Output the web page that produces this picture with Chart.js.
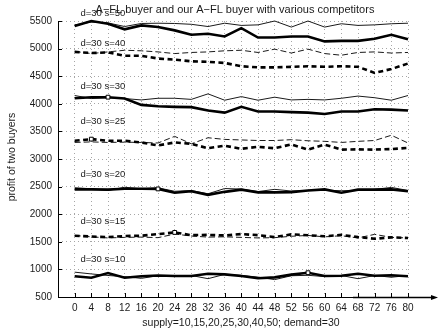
<!DOCTYPE html>
<html>
<head>
<meta charset="utf-8">
<script src="https://cdn.jsdelivr.net/npm/chart.js@4"></script>
<style>
  html, body { margin: 0; padding: 0; background: #fff; }
  #wrap { width: 443px; height: 332px; }
</style>
</head>
<body>
<div id="wrap"><canvas id="c" width="443" height="332"></canvas></div>
<script>
// supply steps on the x axis
const supply = [0, 4, 8, 12, 16, 20, 24, 28, 32, 36, 40, 44, 48, 52, 56, 60, 64, 68, 72, 76, 80];

// competitor buyer (thin) and our buyer (thick) per supply level
const s50Thin  = [5430, 5480, 5465, 5400, 5455, 5460, 5455, 5440, 5400, 5460, 5420, 5430, 5500, 5390, 5500, 5390, 5450, 5420, 5430, 5450, 5460];
const s50Thick = [5410, 5500, 5450, 5350, 5420, 5390, 5330, 5250, 5270, 5220, 5370, 5200, 5200, 5220, 5220, 5130, 5140, 5140, 5180, 5250, 5170];
const s40Thin  = [4950, 4910, 4940, 4970, 4960, 4940, 4910, 4930, 4940, 4960, 4970, 4930, 4990, 4920, 4990, 4910, 4880, 4930, 4940, 4920, 4930];
const s40Thick = [4940, 4920, 4930, 4870, 4870, 4820, 4800, 4770, 4760, 4740, 4680, 4660, 4660, 4670, 4680, 4670, 4680, 4670, 4560, 4630, 4730];
const s30Thin  = [4150, 4095, 4110, 4095, 4070, 4100, 4100, 4080, 4180, 4065, 4130, 4065, 4120, 4070, 4080, 4070, 4100, 4140, 4110, 4065, 4150];
const s30Thick = [4100, 4120, 4120, 4095, 3980, 3955, 3945, 3940, 3880, 3840, 3945, 3860, 3860, 3850, 3840, 3815, 3860, 3860, 3900, 3895, 3880];
const s25Thin  = [3300, 3310, 3300, 3305, 3300, 3290, 3410, 3275, 3385, 3355, 3345, 3335, 3335, 3350, 3330, 3320, 3300, 3320, 3335, 3430, 3290];
const s25Thick = [3330, 3360, 3330, 3330, 3300, 3245, 3300, 3275, 3195, 3240, 3185, 3220, 3195, 3265, 3170, 3260, 3170, 3175, 3170, 3180, 3200];
const s20Thin  = [2480, 2460, 2430, 2488, 2460, 2478, 2415, 2430, 2370, 2465, 2455, 2410, 2450, 2420, 2430, 2435, 2425, 2430, 2450, 2485, 2430];
const s20Thick = [2450, 2450, 2445, 2462, 2460, 2458, 2390, 2415, 2350, 2405, 2445, 2395, 2395, 2400, 2430, 2450, 2390, 2445, 2445, 2450, 2415];
const s15Thin  = [1615, 1590, 1570, 1580, 1585, 1575, 1640, 1605, 1585, 1590, 1580, 1570, 1575, 1600, 1615, 1590, 1610, 1570, 1635, 1580, 1570];
const s15Thick = [1610, 1595, 1585, 1605, 1610, 1640, 1670, 1620, 1625, 1615, 1640, 1620, 1585, 1635, 1620, 1600, 1625, 1585, 1555, 1580, 1570];
const s10Thin  = [950, 918, 890, 868, 838, 885, 880, 890, 832, 910, 892, 860, 815, 885, 893, 870, 890, 832, 890, 858, 890];
const s10Thick = [875, 850, 935, 850, 875, 890, 880, 880, 920, 910, 880, 840, 855, 905, 940, 880, 885, 920, 885, 895, 875];

// one entry per group, top to bottom
const groupNames  = ['d=30 s=50', 'd=30 s=40', 'd=30 s=30', 'd=30 s=25', 'd=30 s=20', 'd=30 s=15', 'd=30 s=10'];
const thinSeries  = [s50Thin, s40Thin, s30Thin, s25Thin, s20Thin, s15Thin, s10Thin];
const thickSeries = [s50Thick, s40Thick, s30Thick, s25Thick, s20Thick, s15Thick, s10Thick];
const dashedGroup = [false, true, false, true, false, true, false];
const bestSupply  = [null, null, 8, 4, 20, 24, 56];     // supply where the square marker sits
const groupLabelAt = [5630, 5100, 4320, 3680, 2730, 1865, 1175]; // label anchor (profit units)

const yTicks = [500, 1000, 1500, 2000, 2500, 3000, 3500, 4000, 4500, 5000, 5500];

const FONT = '"Liberation Sans", Arial, sans-serif';
const INK = '#1a1a1a';
const GRID = '#a6a6a6';

const datasets = [];
groupNames.forEach((name, g) => {
  datasets.push({
    label: name + ' competitor',
    data: supply.map((x, i) => ({ x, y: thinSeries[g][i] })),
    borderColor: INK,
    borderWidth: 1,
    borderDash: dashedGroup[g] ? [6, 3] : [],
    pointRadius: 0,
    tension: 0,
    clip: false,
    order: 2
  });
  datasets.push({
    label: name + ' ours',
    data: supply.map((x, i) => ({ x, y: thickSeries[g][i] })),
    borderColor: '#000',
    borderWidth: 2.6,
    borderDash: dashedGroup[g] ? [5, 3.5] : [],
    pointStyle: 'rect',
    pointRadius: ctx => (supply[ctx.dataIndex] === bestSupply[g] ? 2.7 : 0),
    pointHoverRadius: 0,
    pointBackgroundColor: '#fff',
    pointBorderColor: '#000',
    pointBorderWidth: 1,
    tension: 0,
    clip: false,
    order: 1
  });
});

// axis lines, inward ticks, titles and group labels
const decor = {
  id: 'decor',
  afterDraw(chart) {
    const { ctx, chartArea: a, scales: { x, y } } = chart;
    ctx.save();
    ctx.setLineDash([]);
    ctx.strokeStyle = '#000';
    ctx.fillStyle = '#000';

    // y axis
    ctx.lineWidth = 1;
    ctx.beginPath();
    ctx.moveTo(a.left + 0.5, a.top);
    ctx.lineTo(a.left + 0.5, a.bottom + 1);
    ctx.stroke();

    // x axis with arrow
    ctx.beginPath();
    ctx.moveTo(a.left, a.bottom + 0.5);
    ctx.lineTo(432, a.bottom + 0.5);
    ctx.stroke();
    ctx.lineWidth = 1.6;
    ctx.beginPath();
    ctx.moveTo(353, a.bottom + 0.5);
    ctx.lineTo(432, a.bottom + 0.5);
    ctx.stroke();
    ctx.beginPath();
    ctx.moveTo(438, a.bottom + 0.5);
    ctx.lineTo(431, a.bottom - 2);
    ctx.lineTo(431, a.bottom + 3);
    ctx.closePath();
    ctx.fill();

    // inward tick marks
    ctx.lineWidth = 1;
    ctx.beginPath();
    yTicks.forEach(v => {
      const py = Math.round(y.getPixelForValue(v)) + 0.5;
      ctx.moveTo(a.left, py);
      ctx.lineTo(a.left + 4, py);
    });
    supply.forEach(v => {
      const px = Math.round(x.getPixelForValue(v)) + 0.5;
      ctx.moveTo(px, a.bottom);
      ctx.lineTo(px, a.bottom - 4);
    });
    ctx.stroke();

    ctx.fillStyle = INK;
    // chart title
    ctx.font = '11px ' + FONT;
    ctx.textAlign = 'center';
    ctx.textBaseline = 'middle';
    ctx.fillText('A\u2212FL buyer and our A\u2212FL buyer with various competitors', 235, 10);

    // x axis title
    ctx.font = '10.5px ' + FONT;
    ctx.fillText('supply=10,15,20,25,30,40,50; demand=30', 241, 323);

    // y axis title
    ctx.save();
    ctx.translate(12, (a.top + a.bottom) / 2 - 2);
    ctx.rotate(-Math.PI / 2);
    ctx.font = '10.5px ' + FONT;
    ctx.fillText('profit of two buyers', 0, 0);
    ctx.restore();

    // group labels
    ctx.font = '9.5px ' + FONT;
    ctx.textAlign = 'left';
    groupNames.forEach((name, g) => {
      ctx.fillText(name, x.getPixelForValue(1.4), y.getPixelForValue(groupLabelAt[g]));
    });
    ctx.restore();
  }
};

new Chart(document.getElementById('c'), {
  type: 'line',
  data: { datasets },
  plugins: [decor],
  options: {
    responsive: false,
    animation: false,
    events: [],
    layout: { padding: { left: 0, right: 35, top: 21, bottom: 0 } },
    plugins: { legend: { display: false }, tooltip: { enabled: false } },
    scales: {
      x: {
        type: 'linear',
        min: -4,
        max: 80,
        afterBuildTicks: s => { s.ticks = supply.map(v => ({ value: v })); },
        afterFit: s => { s.height = 35; },
        grid: { color: GRID, lineWidth: 1, drawTicks: false },
        border: { display: false, dash: [1, 3] },
        ticks: { padding: 5, color: INK, font: { family: FONT, size: 10 }, maxRotation: 0, autoSkip: false, callback: v => String(v) }
      },
      y: {
        min: 500,
        max: 5500,
        afterBuildTicks: s => { s.ticks = yTicks.map(v => ({ value: v })); },
        afterFit: s => { s.width = 58; },
        grid: { color: GRID, lineWidth: 1, drawTicks: false },
        border: { display: false, dash: [1, 3] },
        ticks: { padding: 6, color: INK, font: { family: FONT, size: 10 }, callback: v => String(v) }
      }
    }
  }
});
</script>
</body>
</html>
